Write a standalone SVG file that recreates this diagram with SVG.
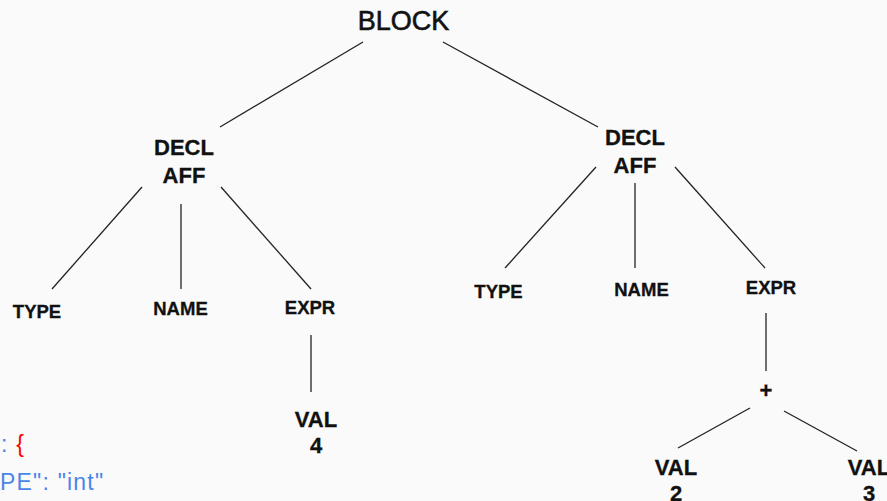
<svg xmlns="http://www.w3.org/2000/svg" width="887" height="501" viewBox="0 0 887 501">
<style>
.bg{fill:#fafafa}
.e{stroke:#222;stroke-width:1.3;fill:none}
.t{font-family:"Liberation Sans",Arial,sans-serif;fill:#111;stroke:#111;stroke-width:0.3;text-anchor:middle}
.big{font-size:22px;font-weight:bold}
.sm{font-size:18.5px;font-weight:bold}
.root{font-size:27px;stroke-width:0.6}
.code{font-family:"Liberation Sans",Arial,sans-serif;font-size:23px;fill:#4a86e8;letter-spacing:1.2px}
.red{fill:#ff0000}
</style>
<rect class="bg" x="0" y="0" width="887" height="501"/>
<g id="connectors">
<line class="e" x1="363" y1="42" x2="220" y2="127"/>
<line class="e" x1="443" y1="42" x2="598" y2="127"/>
<line class="e" x1="142" y1="187" x2="52" y2="289"/>
<line class="e" x1="181" y1="204" x2="181" y2="289"/>
<line class="e" x1="221" y1="187" x2="311" y2="289"/>
<line class="e" x1="311" y1="335" x2="311" y2="392"/>
<line class="e" x1="596" y1="167" x2="505" y2="268"/>
<line class="e" x1="635" y1="183" x2="635" y2="268"/>
<line class="e" x1="675" y1="167" x2="765" y2="268"/>
<line class="e" x1="766" y1="313" x2="766" y2="371"/>
<line class="e" x1="750" y1="408" x2="678" y2="448"/>
<line class="e" x1="784" y1="411" x2="857" y2="451"/>
</g>
<g id="block"><text class="t root" x="403.5" y="30">BLOCK</text></g>
<g id="decl1"><text class="t big" x="184" y="155">DECL</text><text class="t big" x="184" y="183">AFF</text></g>
<g id="decl2"><text class="t big" x="635" y="145">DECL</text><text class="t big" x="635" y="173">AFF</text></g>
<g id="type1"><text class="t sm" x="37" y="318">TYPE</text></g>
<g id="name1"><text class="t sm" x="180.5" y="315">NAME</text></g>
<g id="expr1"><text class="t sm" x="310" y="313.5">EXPR</text></g>
<g id="val4"><text class="t big" x="316" y="427">VAL</text><text class="t big" x="316" y="453">4</text></g>
<g id="type2"><text class="t sm" x="498.5" y="298">TYPE</text></g>
<g id="name2"><text class="t sm" x="641.5" y="296">NAME</text></g>
<g id="expr2"><text class="t sm" x="771" y="294">EXPR</text></g>
<g id="plus"><text class="t big" x="766" y="398">+</text></g>
<g id="val2"><text class="t big" x="676" y="475">VAL</text><text class="t big" x="676" y="501">2</text></g>
<g id="val3"><text class="t big" x="869" y="475">VAL</text><text class="t big" x="869" y="501">3</text></g>
<g id="code">
<text class="code" x="1" y="452">: <tspan class="red">{</tspan></text>
<text class="code" x="0" y="490">PE": "int"</text>
</g>
</svg>
